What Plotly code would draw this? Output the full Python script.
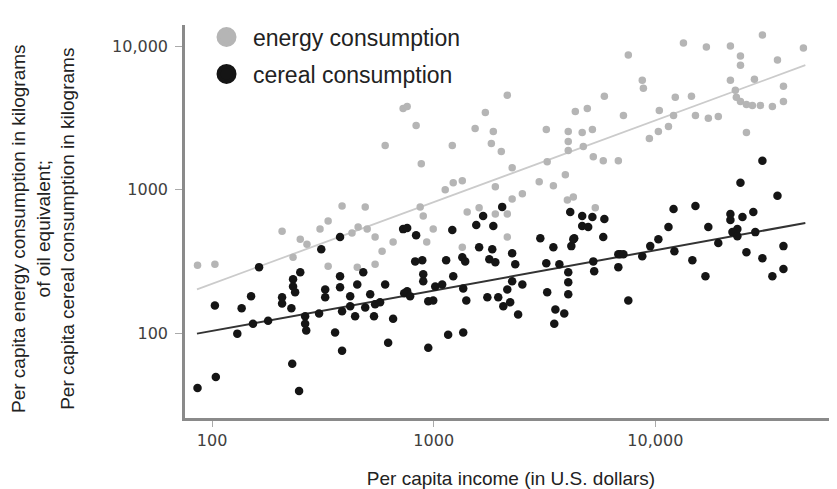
import math
import plotly.graph_objects as go

# ---- data ----
energy_income = [86, 103, 207, 232, 250, 268, 307, 334, 334, 428, 456, 501, 544, 585, 656,
                 452, 544, 604, 386, 491, 728, 759, 833, 879, 1213, 1127, 1225, 1346, 1538,
                 1710, 1858, 1820, 2018, 2148, 2259, 1897, 2259, 2512, 2992, 3221, 3251, 3467,
                 3926, 4009, 4046, 4046, 4046, 4266, 4355, 4677, 4732, 4932, 5200, 5248, 5821,
                 5888, 6808, 869, 897, 1416, 1603, 1897, 2148, 5358, 7178, 7551, 8730, 8831,
                 9397, 10320, 11460, 10420, 12300, 12080, 13390, 14550, 15170, 16990, 17340,
                 19230, 21810, 21810, 24210, 24210, 22960, 23200, 24210, 25760, 27400, 29780,
                 27990, 30410, 33730, 35560, 37840, 37840, 46560, 25760, 995, 930, 1346, 2148]
energy_kg = [299, 304, 516, 340, 454, 419, 533, 607, 294, 500, 551, 533, 469, 374, 433,
             290, 304, 2030, 773, 761, 3680, 3800, 2805, 1520, 2030, 1000, 1120, 1155, 2670,
             3455, 2545, 2100, 1845, 4540, 1425, 1050, 865, 938, 1138, 2630, 1570, 1067,
             1275, 851, 2545, 2170, 1875, 893, 3510, 2505, 2000, 3680, 2630, 1700, 1595,
             4470, 1595, 761, 658, 702, 749, 679, 679, 749, 3290, 8650, 5780, 5080,
             2275, 2545, 2760, 3565, 4400, 3290, 10500, 4470, 3290, 9840, 3140,
             3240, 10000, 5780, 8510, 7360, 4920, 4400, 4120, 3925, 3865, 3865,
             5875, 11940, 3800, 7980, 5250, 4120, 9680, 2505, 533, 433, 399, 469]

cereal_income = [86, 104, 103, 130, 136, 150, 153, 163, 179, 207, 207, 228, 230, 247, 232,
                 232, 237, 250, 263, 263, 266, 311, 304, 324, 324, 359, 386, 378, 378, 386,
                 420, 420, 442, 452, 481, 491, 517, 544, 538, 573, 604, 623, 656, 759, 825,
                 378, 728, 736, 759, 833, 1213, 1556, 1858, 1671, 783, 888, 897, 897, 945,
                 995, 1016, 1092, 1138, 1225, 1346, 1387, 1359, 1403, 1603, 1837, 1782, 1897,
                 1746, 1955, 2061, 2213, 2148, 2259, 2259, 2333, 2512, 2404, 3027, 3251, 3221,
                 3467, 3690, 3540, 3882, 3499, 4046, 4046, 4046, 4178, 4305, 4677, 4677, 4977,
                 5248, 5297, 5821, 5888, 6808, 6808, 1162, 1359, 945, 2037, 4130, 5200, 4266,
                 12080, 15170, 11460, 10320, 17340, 24210, 30410, 35560, 21810, 24720, 27670,
                 23440, 28250, 37840, 22280, 23440, 9484, 6950, 7178, 8730, 12190, 19230,
                 14690, 16830, 25760, 30410, 37840, 33730, 7551, 21810]
cereal_kg = [41.9, 50, 157, 100, 150, 182, 117, 290, 123, 179, 162, 150, 61.7, 39.9, 239,
             213, 194, 267, 132, 117, 105, 386, 138, 203, 179, 102, 76.1, 251, 210, 143,
             182, 155, 132, 220, 267, 152, 188, 160, 132, 165, 220, 86.5, 127, 197, 318,
             469, 533, 191, 542, 484, 525, 569, 560, 658, 182, 324, 259, 231, 168,
             170, 213, 220, 324, 251, 340, 318, 206, 170, 399, 386, 329, 314,
             179, 179, 155, 165, 203, 231, 362, 304, 220, 136, 461, 194, 309,
             399, 304, 147, 138, 117, 267, 228, 188, 406, 461, 658, 560, 551,
             318, 272, 469, 627, 357, 290, 98.4, 102, 79.8, 761, 702, 647, 454,
             736, 773, 551, 454, 551, 1120, 1595, 908, 679, 647, 702,
             533, 508, 406, 508, 476, 406, 357, 357, 345, 374, 426,
             324, 251, 368, 334, 281, 251, 170, 617]

# trend lines (end points)
trend_income = [85.5, 47500]
energy_trend = [203, 7360]
cereal_trend = [100, 588]

x_ticks = [100, 1000, 10000]
x_tick_labels = ["100", "1000", "10,000"]
y_ticks = [100, 1000, 10000]
y_tick_labels = ["100", "1000", "10,000"]

ENERGY_COLOR = "#b5b5b5"
CEREAL_COLOR = "#151515"
FONT = "Liberation Sans, Arial, sans-serif"
TICK_FONT = "DejaVu Sans, sans-serif"

fig = go.Figure()

fig.add_trace(go.Scatter(x=trend_income, y=energy_trend, mode="lines",
                         line=dict(color="#cbcbcb", width=1.8), showlegend=False,
                         hoverinfo="skip"))
fig.add_trace(go.Scatter(x=trend_income, y=cereal_trend, mode="lines",
                         line=dict(color="#333333", width=2), showlegend=False,
                         hoverinfo="skip"))

fig.add_trace(go.Scatter(x=energy_income, y=energy_kg, mode="markers",
                         marker=dict(color=ENERGY_COLOR, size=7.5, line=dict(width=0)),
                         name="energy consumption", showlegend=False))
fig.add_trace(go.Scatter(x=cereal_income, y=cereal_kg, mode="markers",
                         marker=dict(color=CEREAL_COLOR, size=8.5, line=dict(width=0)),
                         name="cereal consumption", showlegend=False))

# legend entries
fig.add_trace(go.Scatter(x=[None], y=[None], mode="markers",
                         name="\u00a0energy consumption",
                         marker=dict(color=ENERGY_COLOR, size=16,
                                     line=dict(color=ENERGY_COLOR, width=4)),
                         legendgroup="e"))
fig.add_trace(go.Scatter(x=[None], y=[None], mode="markers",
                         name="\u00a0cereal consumption",
                         marker=dict(color=CEREAL_COLOR, size=16,
                                     line=dict(color=CEREAL_COLOR, width=4)),
                         legendgroup="c"))

# the page adds an 8px body margin, so the figure is 8px smaller and margins shifted
fig.update_layout(
    width=829, height=481,
    margin=dict(l=177, r=0, t=17, b=71),
    paper_bgcolor="white", plot_bgcolor="white",
    font=dict(family=FONT, color="#222222"),
    showlegend=True,
    legend=dict(x=0.033, y=1.024, xanchor="left", yanchor="top",
                font=dict(size=23, color="#222222", family=FONT),
                bgcolor="rgba(0,0,0,0)", traceorder="grouped", tracegroupgap=4,
                itemsizing="trace"),
    xaxis=dict(type="log", range=[math.log10(75.5), math.log10(66000)],
               showline=True, linecolor="#8a8a8a", linewidth=2.5,
               ticks="outside", ticklen=6, tickwidth=1, tickcolor="#aaaaaa",
               tickvals=x_ticks, ticktext=x_tick_labels,
               tickfont=dict(size=16, color="#404040", family=TICK_FONT),
               showgrid=False, zeroline=False,
               title=dict(text="Per capita income (in U.S. dollars)",
                          font=dict(size=19, color="#222222"), standoff=24)),
    yaxis=dict(type="log", range=[math.log10(25.9), math.log10(14000)],
               showline=True, linecolor="#8a8a8a", linewidth=2.5,
               ticks="outside", ticklen=7, tickwidth=1, tickcolor="#aaaaaa",
               ticklabelstandoff=4,
               tickvals=y_ticks, ticktext=y_tick_labels,
               tickfont=dict(size=16, color="#404040", family=TICK_FONT),
               showgrid=False, zeroline=False),
)

fig.add_annotation(
    text="Per capita energy consumption in kilograms<br>of oil equivalent;<br>"
         "Per capita cereal consumption in kilograms",
    textangle=-90, xref="paper", yref="paper",
    x=-(185 - 43) / 652, y=(418 - 229) / 393, xanchor="center", yanchor="middle",
    showarrow=False, align="center",
    font=dict(size=19, color="#222222", family=FONT))

fig.write_html("out.html")
